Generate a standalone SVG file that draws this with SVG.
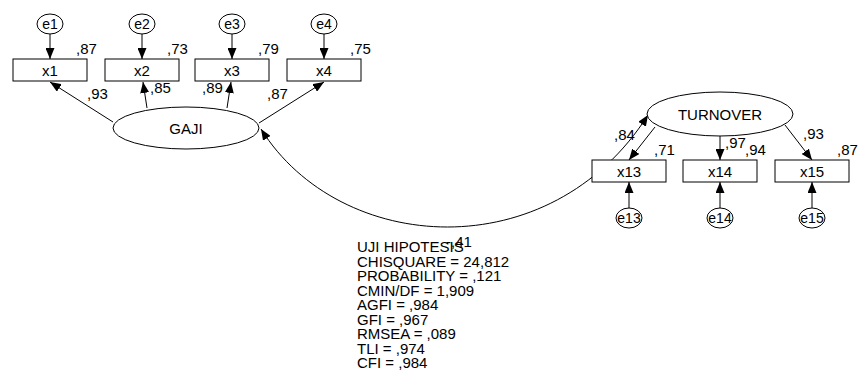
<svg xmlns="http://www.w3.org/2000/svg" width="861" height="373" viewBox="0 0 861 373">
<style>
.bg{fill:#ffffff}
.shape{fill:#ffffff;stroke:#000000;stroke-width:1}
.line{fill:none;stroke:#000000;stroke-width:1}
text{font-family:"Liberation Sans",Arial,sans-serif;font-size:15px;fill:#000000}
.c{text-anchor:middle}
.s{font-size:14px}
</style>
<defs>
<marker id="arr" markerUnits="userSpaceOnUse" markerWidth="11" markerHeight="9" viewBox="0 0 11 9" refX="11" refY="4.5" orient="auto-start-reverse">
<path d="M0,0 L11,4.5 L0,9 z" fill="#000000"/>
</marker>
</defs>
<rect class="bg" x="0" y="0" width="861" height="373"/>

<g id="connectors">
<line class="line" x1="50" y1="34" x2="50" y2="59" marker-end="url(#arr)"/>
<line class="line" x1="142" y1="34" x2="142" y2="59" marker-end="url(#arr)"/>
<line class="line" x1="232" y1="34" x2="232" y2="59" marker-end="url(#arr)"/>
<line class="line" x1="324" y1="34" x2="324" y2="59" marker-end="url(#arr)"/>
<line class="line" x1="113" y1="122" x2="50" y2="82" marker-end="url(#arr)"/>
<line class="line" x1="147" y1="108" x2="143" y2="82" marker-end="url(#arr)"/>
<line class="line" x1="227" y1="108" x2="231" y2="82" marker-end="url(#arr)"/>
<line class="line" x1="259" y1="123" x2="324" y2="82" marker-end="url(#arr)"/>
<line class="line" x1="655" y1="127" x2="629" y2="160" marker-end="url(#arr)"/>
<line class="line" x1="720" y1="136" x2="720" y2="160" marker-end="url(#arr)"/>
<line class="line" x1="785" y1="125" x2="812" y2="160" marker-end="url(#arr)"/>
<line class="line" x1="629" y1="208" x2="629" y2="182" marker-end="url(#arr)"/>
<line class="line" x1="720" y1="208" x2="720" y2="182" marker-end="url(#arr)"/>
<line class="line" x1="812" y1="208" x2="812" y2="182" marker-end="url(#arr)"/>
<path class="line" d="M261,129 C340,255 550,269 648,115" marker-start="url(#arr)" marker-end="url(#arr)"/>
</g>

<g id="e1"><ellipse class="shape" cx="50" cy="24" rx="13" ry="10"/><text class="c s" x="50" y="29">e1</text></g>
<g id="e2"><ellipse class="shape" cx="142" cy="24" rx="13" ry="10"/><text class="c s" x="142" y="29">e2</text></g>
<g id="e3"><ellipse class="shape" cx="232" cy="24" rx="13" ry="10"/><text class="c s" x="232" y="29">e3</text></g>
<g id="e4"><ellipse class="shape" cx="324" cy="24" rx="13" ry="10"/><text class="c s" x="324" y="29">e4</text></g>

<g id="x1"><rect class="shape" x="13" y="59" width="74" height="22"/><text class="c" x="50" y="75.5">x1</text></g>
<g id="x2"><rect class="shape" x="105" y="59" width="74" height="22"/><text class="c" x="142" y="75.5">x2</text></g>
<g id="x3"><rect class="shape" x="195" y="59" width="74" height="22"/><text class="c" x="232" y="75.5">x3</text></g>
<g id="x4"><rect class="shape" x="287" y="59" width="74" height="22"/><text class="c" x="324" y="75.5">x4</text></g>

<g id="GAJI"><ellipse class="shape" cx="186" cy="128" rx="73" ry="21"/><text class="c" x="186" y="133.5">GAJI</text></g>
<g id="TURNOVER"><ellipse class="shape" cx="720" cy="114" rx="73" ry="22"/><text class="c" x="720" y="119.5">TURNOVER</text></g>

<g id="x13"><rect class="shape" x="592" y="160" width="74" height="22"/><text class="c" x="629" y="176.5">x13</text></g>
<g id="x14"><rect class="shape" x="683" y="160" width="74" height="22"/><text class="c" x="720" y="176.5">x14</text></g>
<g id="x15"><rect class="shape" x="775" y="160" width="74" height="22"/><text class="c" x="812" y="176.5">x15</text></g>

<g id="e13"><ellipse class="shape" cx="629" cy="218" rx="13" ry="10"/><text class="c s" x="629" y="223">e13</text></g>
<g id="e14"><ellipse class="shape" cx="720" cy="218" rx="13" ry="10"/><text class="c s" x="720" y="223">e14</text></g>
<g id="e15"><ellipse class="shape" cx="812" cy="218" rx="13" ry="10"/><text class="c s" x="812" y="223">e15</text></g>

<g id="labels">
<text x="76" y="54">,87</text>
<text x="167" y="54">,73</text>
<text x="258" y="54">,79</text>
<text x="350" y="54">,75</text>
<text x="87" y="99">,93</text>
<text x="150" y="93">,85</text>
<text x="202" y="93">,89</text>
<text x="267" y="99">,87</text>
<text x="614" y="140">,84</text>
<text x="654" y="155">,71</text>
<text x="725" y="148">,97</text>
<text x="745" y="155">,94</text>
<text x="803" y="139">,93</text>
<text x="837" y="155">,87</text>
<text x="446" y="247">-,41</text>
</g>

<g id="fit">
<text x="357" y="252">UJI HIPOTESIS</text>
<text x="357" y="266.5">CHISQUARE = 24,812</text>
<text x="357" y="281">PROBABILITY = ,121</text>
<text x="357" y="295.5">CMIN/DF = 1,909</text>
<text x="357" y="310">AGFI = ,984</text>
<text x="357" y="324.5">GFI = ,967</text>
<text x="357" y="339">RMSEA = ,089</text>
<text x="357" y="353.5">TLI = ,974</text>
<text x="357" y="368">CFI = ,984</text>
</g>
</svg>
